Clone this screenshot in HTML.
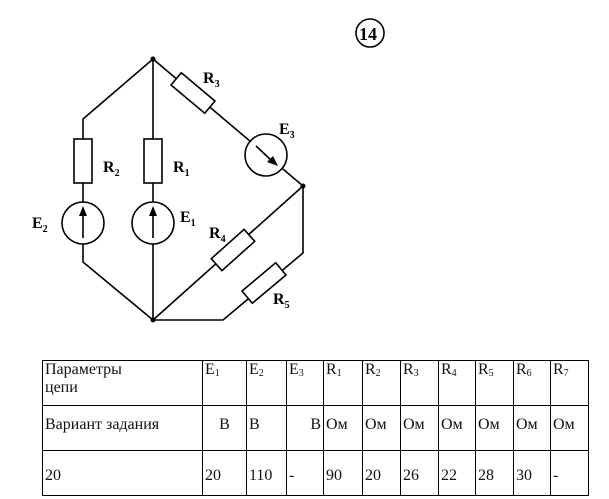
<!DOCTYPE html>
<html><head><meta charset="utf-8"><style>
body{margin:0;background:#fff;width:609px;height:499px;overflow:hidden;position:relative}
svg{position:absolute;left:0;top:0}
table{position:absolute;left:42px;top:360px;width:546px;table-layout:fixed;border-collapse:collapse;font-family:"Liberation Serif",serif;font-size:16px;color:#111}
td{border:1px solid #000;padding:0 2px;vertical-align:top;height:44px;line-height:18px;overflow:hidden;white-space:nowrap}
sub{font-size:10px;vertical-align:-2px;line-height:0}
tr.r2 td{padding-top:10px;height:34px}
tr.r3 td{padding-top:16px;height:28px}
</style></head><body>
<svg width="609" height="499" viewBox="0 0 609 499">
<g stroke="#000" stroke-width="1.6" fill="none">
<polyline points="83,139 83,119 153,59 153,139"/>
<line x1="83" y1="183" x2="83" y2="202"/>
<line x1="153" y1="183" x2="153" y2="202"/>
<polyline points="83,244 83,262 153,320 153,244"/>
<line x1="153" y1="59" x2="303" y2="186"/>
<line x1="153" y1="320" x2="303" y2="186"/>
<polyline points="153,320 223,320 303,253 303,186"/>
<rect x="74" y="139" width="18" height="44" fill="#fff"/>
<rect x="144" y="139" width="18" height="44" fill="#fff"/>
<circle cx="83" cy="223" r="21" fill="#fff"/>
<circle cx="153" cy="223" r="21" fill="#fff"/>
<circle cx="266" cy="155" r="21" fill="#fff"/>
<rect x="-22" y="-8" width="44" height="16" fill="#fff" transform="translate(193,93) rotate(40)"/>
<rect x="-22" y="-8" width="44" height="16" fill="#fff" transform="translate(233,250) rotate(-41.8)"/>
<rect x="-22" y="-8" width="44" height="16" fill="#fff" transform="translate(264,283) rotate(-40)"/>
<line x1="83" y1="238" x2="83" y2="214"/>
<line x1="153" y1="238" x2="153" y2="214"/>
<line x1="256" y1="146" x2="272" y2="161"/>
<circle cx="370" cy="33" r="14"/>
</g>
<g fill="#000">
<polygon points="83,206 79,216 87,216"/>
<polygon points="153,206 149,216 157,216"/>
<polygon points="278,166 267,162 273,156"/>
<circle cx="153" cy="59" r="2.5"/>
<circle cx="153" cy="320" r="2.5"/>
<circle cx="303" cy="186" r="2.5"/>
</g>
<g font-family="Liberation Serif,serif" font-weight="bold" font-size="16" fill="#000">
<text x="203" y="83">R<tspan font-size="10" dy="4">3</tspan></text>
<text x="279" y="134">E<tspan font-size="10" dy="4">3</tspan></text>
<text x="103" y="172">R<tspan font-size="10" dy="4">2</tspan></text>
<text x="173" y="172">R<tspan font-size="10" dy="4">1</tspan></text>
<text x="32" y="228">E<tspan font-size="10" dy="4">2</tspan></text>
<text x="180" y="222">E<tspan font-size="10" dy="4">1</tspan></text>
<text x="209" y="238">R<tspan font-size="10" dy="4">4</tspan></text>
<text x="273" y="304">R<tspan font-size="10" dy="4">5</tspan></text>
<text x="359" y="40" font-size="18">14</text>
</g>
</svg>
<table>
<colgroup><col style="width:160px"><col style="width:44px"><col style="width:40px"><col style="width:37px"><col style="width:39px"><col style="width:38px"><col style="width:38px"><col style="width:37px"><col style="width:38px"><col style="width:37px"><col style="width:38px"></colgroup>
<tr><td>Параметры<br>цепи</td><td>E<sub>1</sub></td><td>E<sub>2</sub></td><td>E<sub>3</sub></td><td>R<sub>1</sub></td><td>R<sub>2</sub></td><td>R<sub>3</sub></td><td>R<sub>4</sub></td><td>R<sub>5</sub></td><td>R<sub>6</sub></td><td>R<sub>7</sub></td></tr>
<tr class="r2"><td>Вариант задания</td><td style="text-align:center">В</td><td>В</td><td style="text-align:right">В</td><td>Ом</td><td>Ом</td><td>Ом</td><td>Ом</td><td>Ом</td><td>Ом</td><td>Ом</td></tr>
<tr class="r3"><td>20</td><td>20</td><td>110</td><td>-</td><td>90</td><td>20</td><td>26</td><td>22</td><td>28</td><td>30</td><td>-</td></tr>
</table>
</body></html>
